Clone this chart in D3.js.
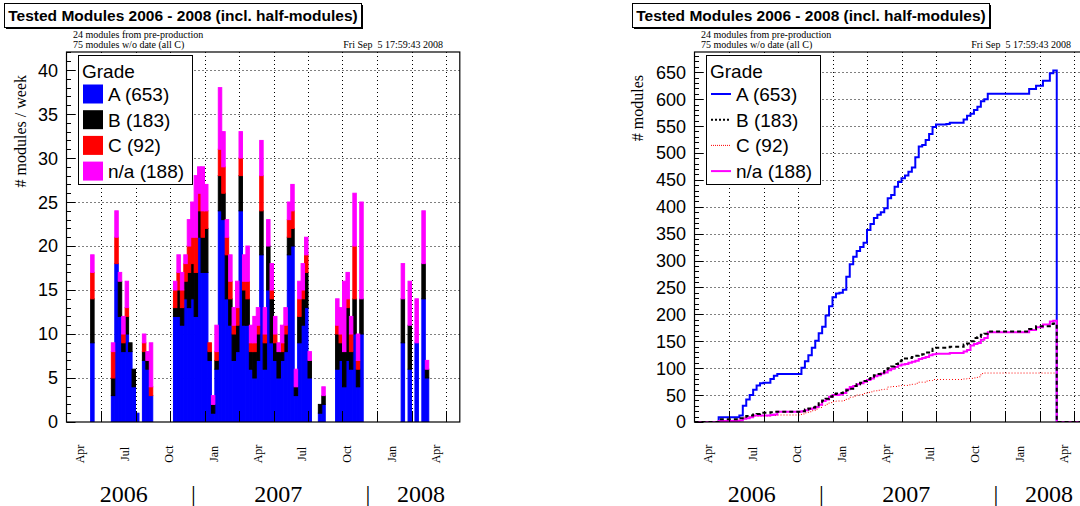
<!DOCTYPE html>
<html><head><meta charset="utf-8">
<script src="https://cdn.jsdelivr.net/npm/d3@7"></script>
<style>body{margin:0;background:#fff}svg{display:block}</style>
</head><body>
<svg id="c" width="1080" height="506"></svg>
<script>
// ---- data (weekly bins; week index counted from the start of the x range) ----
const weeks  = [7,13,14,15,16,17,18,19,20,22,23,24,
                31,32,33,34,35,36,37,38,39,40,41,42,43,44,45,46,47,48,49,50,51,52,
                53,54,55,56,57,58,59,60,61,62,63,64,65,66,67,68,69,70,73,74,
                78,79,80,81,82,83,84,85,97,99,101,103,104];
const gradeA = [9,3,18,12,8,10,8,4,1,7,6,3,
                12,12,11,14,13,14,12,21,17,17,7,1,6,24,23,14,11,7,8,24,11,11,
                6,5,7,19,6,15,9,7,5,7,8,19,20,3,9,11,13,5,1,2,
                6,7,4,7,6,10,4,10,9,6,9,14,5];
const gradeB = [5,2,0,4,1,2,1,2,0,1,1,0,
                1,3,2,2,4,4,5,3,4,5,1,1,1,4,3,5,3,3,3,4,4,3,
                2,3,3,5,3,5,5,2,3,1,2,2,2,1,3,3,4,2,1,1,
                4,2,4,6,2,4,2,4,5,5,0,4,1];
const gradeC = [3,3,3,0,1,1,0,0,0,1,0,1,
                2,2,2,2,3,3,4,2,3,2,1,0,1,3,3,2,2,1,2,2,1,2,
                1,1,1,4,1,0,1,1,0,1,1,2,2,0,2,1,2,0,0,0,
                1,1,0,1,2,6,1,0,0,0,0,0,0];
const gradeNA= [2,1,3,1,2,3,0,0,0,1,1,5,
                1,2,2,1,3,4,7,3,5,3,0,1,3,7,4,2,3,2,3,3,3,4,
                2,3,2,4,3,3,3,2,1,2,2,2,3,2,2,3,2,1,0,1,
                3,3,8,3,2,6,3,11,4,5,5,6,1];
const seriesKeys   = ["A","B","C","NA"];
const legendLabels = ["A (653)","B (183)","C (92)","n/a (188)"];
const seriesColors = ["#0000ff","#000000","#ff0000","#ff00ff"];
const monthLabels  = ["Apr","Jul","Oct","Jan","Apr","Jul","Oct","Jan","Apr"];
const monthDates   = ["2006-04-01","2006-07-01","2006-10-01","2007-01-01","2007-04-01","2007-07-01","2007-10-01","2008-01-01","2008-04-01"];
const yearLabels   = ["2006","|","2007","|","2008"];
const yearDates    = ["2006-06-30","2006-11-20","2007-05-13","2007-11-13","2008-03-01"];
const leftYTicks   = [0,5,10,15,20,25,30,35,40];
const rightYTicks  = [0,50,100,150,200,250,300,350,400,450,500,550,600,650];
const titleText = "Tested Modules 2006 - 2008 (incl. half-modules)";
const noteLines = ["24 modules from pre-production","75 modules w/o date (all C)"];
const dateText  = "Fri Sep  5 17:59:43 2008";
const nWeeks = 114;

// ---- layout ----
const svg = d3.select("#c");
const F = {x0:66.5, x1:459.8, y0:52, y1:422};
const offsets = [0, 628];
const SANS = "'Liberation Sans', Arial, Helvetica, sans-serif";
const SERIF = "'Liberation Serif', 'Times New Roman', serif";

const rows = weeks.map((w,i)=>({week:w, A:gradeA[i], B:gradeB[i], C:gradeC[i], NA:gradeNA[i]}));
const lastWeek = d3.max(weeks);

function panel(idx){
  const off = offsets[idx];
  const g = svg.append("g").attr("transform",`translate(${off},0)`);
  const x = d3.scaleLinear().domain([0,nWeeks]).range([F.x0,F.x1]);
  const y = idx===0 ? d3.scaleLinear().domain([0,42.05]).range([F.y1,F.y0])
                    : d3.scaleLinear().domain([0,687.6]).range([F.y1,F.y0]);
  const tLab = d3.scaleTime().domain([new Date(2006,3,1), new Date(2008,3,1)]).range([80,436]);

  const cid = "clip"+idx;
  g.append("clipPath").attr("id",cid).append("rect")
    .attr("x",F.x0).attr("y",F.y0).attr("width",F.x1-F.x0).attr("height",F.y1-F.y0);

  // grid
  const grid = g.append("g").attr("stroke","#000").attr("stroke-width",1).attr("stroke-dasharray","1,3");
  d3.range(10,nWeeks,10).forEach(w=>{
    grid.append("line").attr("x1",Math.round(x(w))+0.5).attr("x2",Math.round(x(w))+0.5).attr("y1",F.y0).attr("y2",F.y1);
  });
  const yt = idx===0?leftYTicks:rightYTicks;
  yt.slice(1).forEach(v=>{
    grid.append("line").attr("x1",F.x0).attr("x2",F.x1).attr("y1",Math.round(y(v))+0.5).attr("y2",Math.round(y(v))+0.5);
  });

  const content = g.append("g").attr("clip-path",`url(#${cid})`);
  if(idx===0){
    const stack = d3.stack().keys(seriesKeys)(rows);
    stack.forEach((layer,li)=>{
      content.append("g").attr("fill",seriesColors[li]).attr("stroke",seriesColors[li]).attr("stroke-width",1)
        .selectAll("rect").data(layer.filter(d=>d[1]>d[0])).join("rect")
        .attr("x",d=>x(d.data.week)).attr("width",d=>x(d.data.week+1)-x(d.data.week))
        .attr("y",d=>y(d[1])).attr("height",d=>y(d[0])-y(d[1]));
    });
  } else {
    const styles = {A:{w:2,dash:null},B:{w:2,dash:"4,3"},C:{w:1,dash:"1,2"},NA:{w:2,dash:null}};
    const order = ["A","C","NA","B"];
    order.forEach(k=>{
      const full = d3.range(nWeeks).map(w=>{const r=rows.find(d=>d.week===w);return r?r[k]:0;});
      const cum = Array.from(d3.cumsum(full)).map((v,w)=>w>lastWeek?0:v);
      const pts = cum.map((v,w)=>[w,v]); pts.push([nWeeks,cum[nWeeks-1]]);
      const line = d3.line().x(d=>x(d[0])).y(d=>y(d[1])).curve(d3.curveStepAfter);
      content.append("path").attr("d",line(pts)).attr("fill","none")
        .attr("stroke",seriesColors[seriesKeys.indexOf(k)]).attr("stroke-width",styles[k].w)
        .attr("stroke-dasharray",styles[k].dash);
    });
  }

  // ticks
  const ax = g.append("g").attr("stroke","#000").attr("stroke-width",1);
  const minorStep = idx===0?1:10, majorStep = idx===0?5:50;
  const ymax = y.domain()[1];
  d3.range(0,ymax,minorStep).forEach(v=>{
    const major = Math.abs(v/majorStep-Math.round(v/majorStep))<1e-6;
    ax.append("line").attr("x1",F.x0).attr("x2",F.x0+(major?9:4.5)).attr("y1",Math.round(y(v))+0.5).attr("y2",Math.round(y(v))+0.5);
  });
  d3.range(10,nWeeks,10).forEach(w=>{
    ax.append("line").attr("x1",Math.round(x(w))+0.5).attr("x2",Math.round(x(w))+0.5).attr("y1",F.y1).attr("y2",F.y1-11);
  });
  // frame
  g.append("rect").attr("x",F.x0).attr("y",F.y0).attr("width",F.x1-F.x0).attr("height",F.y1-F.y0)
    .attr("fill","none").attr("stroke","#000").attr("stroke-width",1.2);

  // y tick labels
  g.append("g").selectAll("text").data(yt).join("text")
    .attr("x",F.x0-8.5).attr("y",d=>y(d)).attr("dy","0.36em").attr("text-anchor","end")
    .attr("font-family",SANS).attr("font-size",18).text(d=>d);

  // y title
  g.append("text").attr("transform",`translate(${idx===0?26:15},75) rotate(-90)`)
    .attr("text-anchor","end").attr("font-family",SERIF).attr("font-size",16)
    .text(idx===0?"# modules / week":"# modules");

  // month labels
  g.append("g").selectAll("text").data(monthLabels).join("text")
    .attr("transform",(d,i)=>`translate(${tLab(new Date(monthDates[i]+"T00:00:00"))},454) rotate(-90)`)
    .attr("text-anchor","middle").attr("dy","0.35em")
    .attr("font-family",SERIF).attr("font-size",12).text(d=>d);
  // year labels
  g.append("g").selectAll("text").data(yearLabels).join("text")
    .attr("x",(d,i)=>tLab(new Date(yearDates[i]+"T00:00:00"))).attr("y",502)
    .attr("text-anchor","middle").attr("font-family",SERIF).attr("font-size",24).text(d=>d);

  // title box
  g.append("rect").attr("x",6).attr("y",5).attr("width",357).attr("height",24).attr("fill","#000");
  g.append("rect").attr("x",4.5).attr("y",3.5).attr("width",357).attr("height",24).attr("fill","#fff").attr("stroke","#000");
  g.append("text").attr("x",183).attr("y",21).attr("text-anchor","middle")
    .attr("font-family",SANS).attr("font-weight","bold").attr("font-size",15.5).text(titleText);
  // notes
  g.append("g").selectAll("text").data(noteLines).join("text")
    .attr("x",73).attr("y",(d,i)=>38+i*10).attr("font-family",SERIF).attr("font-size",10).text(d=>d);
  g.append("text").attr("x",443).attr("y",48).attr("text-anchor","end").attr("xml:space","preserve")
    .attr("font-family",SERIF).attr("font-size",10).text(dateText);

  // legend
  const lg = g.append("g");
  lg.append("rect").attr("x",78.5).attr("y",55.5).attr("width",114).attr("height",129).attr("fill","#fff").attr("stroke","#000");
  lg.append("text").attr("x",82).attr("y",78).attr("font-family",SANS).attr("font-size",19).text("Grade");
  legendLabels.forEach((t,i)=>{
    const cy = 94 + i*25.7;
    if(idx===0){
      lg.append("rect").attr("x",83).attr("y",cy-9.5).attr("width",20).attr("height",19).attr("fill",seriesColors[i]);
    } else {
      const st = [{w:2,d:null},{w:2,d:"2,2"},{w:1,d:"1,1"},{w:2,d:null}][i];
      lg.append("line").attr("x1",83).attr("x2",103).attr("y1",cy).attr("y2",cy)
        .attr("stroke",seriesColors[i]).attr("stroke-width",st.w).attr("stroke-dasharray",st.d);
    }
    lg.append("text").attr("x",108).attr("y",cy).attr("dy","0.36em")
      .attr("font-family",SANS).attr("font-size",19).text(t);
  });
}
panel(0); panel(1);
</script>
</body></html>
